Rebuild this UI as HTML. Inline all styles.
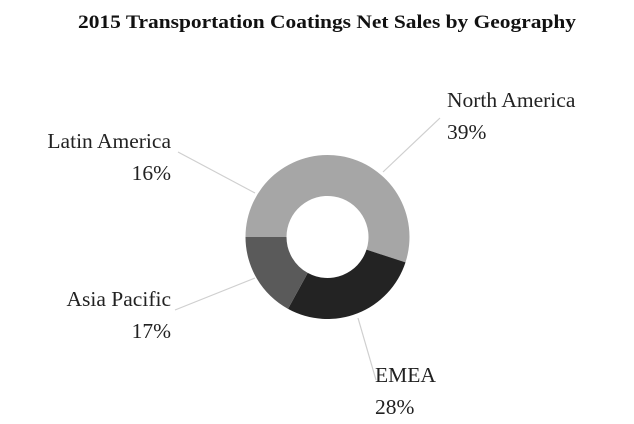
<!DOCTYPE html>
<html><head><meta charset="utf-8"><style>
html,body{margin:0;padding:0;background:#fff;}
svg{display:block;font-family:"Liberation Serif",serif;}
</style></head><body>
<svg width="634" height="424" viewBox="0 0 634 424">
<rect width="634" height="424" fill="#fff"/>
<text x="327" y="28" text-anchor="middle" font-weight="bold" font-size="19" textLength="498" lengthAdjust="spacingAndGlyphs" fill="#111">2015 Transportation Coatings Net Sales by Geography</text>
<g stroke="#cfcfcf" stroke-width="1.2" fill="none">
<line x1="383" y1="172" x2="440" y2="118"/>
<line x1="255" y1="193" x2="178" y2="152"/>
<line x1="255" y1="278" x2="175" y2="310"/>
<line x1="358" y1="318" x2="376" y2="380"/>
</g>
<script>
(function(){
 var cx=327.5,cy=237,R=82,r=41;
 var segs=[[180,378,"#a6a6a6"],[18,118.8,"#232323"],[118.8,180,"#5a5a5a"]];
 var svg=document.querySelector('svg');
 function p(a,rad){a=a*Math.PI/180;return (cx+rad*Math.cos(a)).toFixed(2)+","+(cy+rad*Math.sin(a)).toFixed(2);}
 segs.forEach(function(s){
  var large=(s[1]-s[0])>180?1:0;
  var d="M"+p(s[0],R)+" A"+R+","+R+" 0 "+large+" 1 "+p(s[1],R)+" L"+p(s[1],r)+" A"+r+","+r+" 0 "+large+" 0 "+p(s[0],r)+" Z";
  var e=document.createElementNS("http://www.w3.org/2000/svg","path");
  e.setAttribute("d",d);e.setAttribute("fill",s[2]);
  svg.appendChild(e);
 });
})();
</script>
<g font-size="21.5" fill="#222">
<text x="447" y="107">North America</text>
<text x="447" y="139">39%</text>
<text x="171" y="148" text-anchor="end">Latin America</text>
<text x="171" y="180" text-anchor="end">16%</text>
<text x="171" y="306" text-anchor="end">Asia Pacific</text>
<text x="171" y="338" text-anchor="end">17%</text>
<text x="375" y="382">EMEA</text>
<text x="375" y="414">28%</text>
</g>
</svg>
</body></html>
